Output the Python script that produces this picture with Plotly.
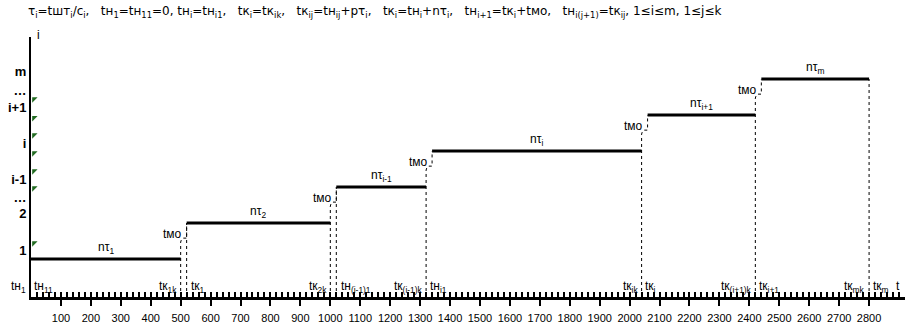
import plotly.graph_objects as go

# ---------------- data ----------------
seg_start = [0, 520, 1020, 1340, 2060, 2440]
seg_end = [500, 1000, 1320, 2040, 2420, 2800]
seg_level = [1, 2, 3, 4, 5, 6]
seg_labels = ["nτ<sub>1</sub>", "nτ<sub>2</sub>", "nτ<sub>i-1</sub>",
              "nτ<sub>i</sub>", "nτ<sub>i+1</sub>", "nτ<sub>m</sub>"]
end_labels = ["tк<sub>1k</sub>", "tк<sub>2k</sub>", "tк<sub>(i-1)k</sub>",
              "tк<sub>ik</sub>", "tк<sub>(i+1)k</sub>", "tк<sub>mk</sub>"]
after_labels = ["tк<sub>1</sub>", "tн<sub>(i-1)1</sub>", "tн<sub>i1</sub>",
                "tк<sub>i</sub>", "tк<sub>i+1</sub>", "tк<sub>m</sub>"]
full_start_line = [False, True, True, False, False, False]
change_label = "tмо"

x_tick_vals = [100, 200, 300, 400, 500, 600, 700, 800, 900, 1000, 1100, 1200, 1300, 1400,
               1500, 1600, 1700, 1800, 1900, 2000, 2100, 2200, 2300, 2400, 2500, 2600, 2700, 2800]
x_tick_text = [str(v) for v in x_tick_vals]
y_tick_vals = [1.25, 2.27, 2.72, 3.22, 4.22, 5.22, 5.67, 6.22]
y_tick_text = ["1", "2", "…", "i-1", "i", "i+1", "…", "m"]
flag_levels = [1.44, 2.97, 3.44, 3.94, 4.44, 4.92, 5.44]

header = ("τ<sub>i</sub>=tшт<sub>i</sub>/c<sub>i</sub>,\u00a0\u00a0 tн<sub>1</sub>=tн<sub>11</sub>=0, "
          "tн<sub>i</sub>=tн<sub>i1</sub>,\u00a0\u00a0 tк<sub>i</sub>=tк<sub>ik</sub>,\u00a0\u00a0 "
          "tк<sub>ij</sub>=tн<sub>ij</sub>+pτ<sub>i</sub>,\u00a0\u00a0 tк<sub>i</sub>=tн<sub>i</sub>+nτ<sub>i</sub>,\u00a0\u00a0 "
          "tн<sub>i+1</sub>=tк<sub>i</sub>+tмо,\u00a0\u00a0 tн<sub>i(j+1)</sub>=tк<sub>ij</sub>, 1≤i≤m, 1≤j≤k")

# ---------------- layout constants ----------------
X_MAX = 2920
Y_MIN = -0.0556
Y_MAX = 7.167
FONT = "Liberation Sans, Arial, sans-serif"

fig = go.Figure()

# steps
for s, e, lv in zip(seg_start, seg_end, seg_level):
    fig.add_trace(go.Scatter(x=[s, e], y=[lv, lv], mode="lines",
                             line=dict(color="black", width=3), hoverinfo="skip",
                             showlegend=False))

# dotted connectors
dx, dy = [], []
n = len(seg_start)
for k in range(n):
    e, lv = seg_end[k], seg_level[k]
    if k < n - 1:
        sn, lvn = seg_start[k + 1], seg_level[k + 1]
        dx += [e, e, e + 3, e + 9, sn, sn, None]
        dy += [Y_MIN, lv + 0.47, lv + 0.55, lv + 0.58, lv + 0.58, lvn, None]
        if full_start_line[k + 1]:
            dx += [sn, sn, None]
            dy += [Y_MIN, lvn, None]
    else:
        dx += [e, e, None]
        dy += [Y_MIN, lv, None]
fig.add_trace(go.Scatter(x=dx, y=dy, mode="lines",
                         line=dict(color="black", width=1, dash="dot"),
                         hoverinfo="skip", showlegend=False))

# green indicator flags on y axis
fig.add_trace(go.Scatter(x=[10] * len(flag_levels), y=flag_levels, mode="markers",
                         marker=dict(symbol="triangle-nw", size=6, color="#226b22"),
                         cliponaxis=False, hoverinfo="skip", showlegend=False))

# axis arrow heads
fig.add_trace(go.Scatter(x=[X_MAX - 12], y=[Y_MIN - 0.04], mode="markers",
                         marker=dict(symbol="triangle-right", size=10, color="black"),
                         cliponaxis=False, hoverinfo="skip", showlegend=False))
fig.add_trace(go.Scatter(x=[-2], y=[Y_MAX - 0.08], mode="markers",
                         marker=dict(symbol="triangle-up", size=10, color="black"),
                         cliponaxis=False, hoverinfo="skip", showlegend=False))

# invisible trace for minor-tick overlay axis
fig.add_trace(go.Scatter(x=[0], y=[0], xaxis="x2", mode="markers",
                         marker=dict(opacity=0), hoverinfo="skip", showlegend=False))

ann = []
tf = dict(family=FONT, size=12, color="black")
for k in range(n):
    s, e, lv = seg_start[k], seg_end[k], seg_level[k]
    ann.append(dict(x=(s + e) / 2, y=lv + 0.3, text=seg_labels[k], showarrow=False,
                    xanchor="center", yanchor="middle", font=tf))
    ann.append(dict(x=e - 6, y=0.222, text=end_labels[k], showarrow=False,
                    xanchor="right", yanchor="middle", font=tf))
    ax_ = (seg_start[k + 1] + 8) if (k < n - 1 and full_start_line[k + 1]) else e + 6
    ann.append(dict(x=ax_, y=0.222, text=after_labels[k], showarrow=False,
                    xanchor="left", yanchor="middle", font=tf))
    if k < n - 1:
        ann.append(dict(x=e + 12, y=lv + 0.69, text=change_label, showarrow=False,
                        xanchor="right", yanchor="middle", font=tf))

ann.append(dict(x=0, y=0.222, xshift=-3, text="tн<sub>1</sub>", showarrow=False,
                xanchor="right", yanchor="middle", font=tf))
ann.append(dict(x=0, y=0.222, xshift=1, text="tн<sub>11</sub>", showarrow=False,
                xanchor="left", yanchor="middle", font=tf))
ann.append(dict(x=2897, y=0.25, text="t", showarrow=False,
                xanchor="center", yanchor="middle", font=tf))
ann.append(dict(xref="paper", yref="paper", x=0, y=1, xshift=7, yshift=2, text="i",
                showarrow=False, xanchor="center", yanchor="middle", font=tf))
ann.append(dict(xref="paper", yref="paper", x=0, y=1, xshift=-5, yshift=25, text=header,
                showarrow=False, xanchor="left", yanchor="middle",
                font=dict(family="DejaVu Sans, sans-serif", size=12, color="black")))

fig.update_layout(
    width=909, height=332,
    margin=dict(l=31, r=4, t=37, b=35, pad=0),
    paper_bgcolor="white", plot_bgcolor="white",
    annotations=ann,
    xaxis=dict(range=[0, X_MAX], showgrid=False, zeroline=False,
               showline=True, linecolor="black", linewidth=3,
               tickmode="array", tickvals=x_tick_vals, ticktext=x_tick_text,
               ticks="outside", ticklen=6, tickwidth=2, tickcolor="black",
               ticklabelstandoff=3,
               tickfont=dict(family=FONT, size=11, color="black")),
    xaxis2=dict(range=[0, X_MAX], overlaying="x", anchor="y", side="bottom",
                showgrid=False, zeroline=False, showline=False,
                tickmode="linear", tick0=0, dtick=20, ticks="inside", ticklen=5,
                tickwidth=2, tickcolor="black", showticklabels=False),
    yaxis=dict(range=[Y_MIN, Y_MAX], showgrid=False, zeroline=False,
               showline=True, linecolor="black", linewidth=2,
               tickmode="array", tickvals=y_tick_vals, ticktext=["<b>%s</b>" % t for t in y_tick_text],
               ticks="", tickfont=dict(family=FONT, size=13, color="black")),
)

fig.write_html("out.html")
